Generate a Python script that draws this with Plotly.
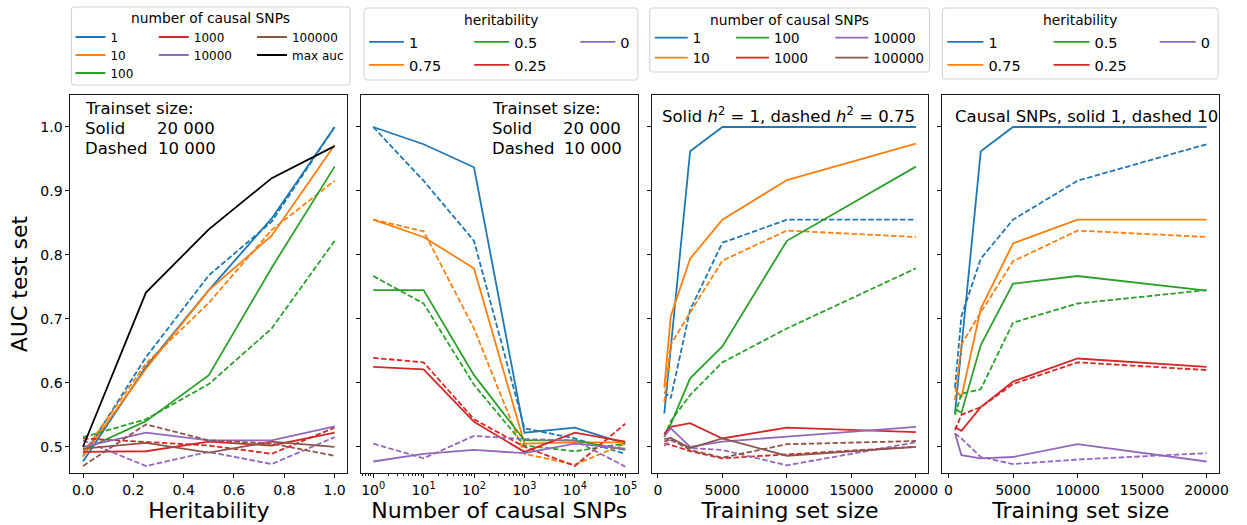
import plotly.graph_objects as go

W, H = 1247, 525

# ---------------- data ----------------
HERIT = [0.0, 0.25, 0.5, 0.75, 1.0]
NSNP = [1, 10, 100, 1000, 10000, 100000]
TRAIN = [500, 1000, 2500, 5000, 10000, 20000]

# Panel A: AUC vs heritability; lines = number of causal SNPs; solid trainset 20 000, dashed 10 000
A_SNP1_20K = [0.477, 0.625, 0.745, 0.857, 1.0]
A_SNP1_10K = [0.485, 0.640, 0.768, 0.852, 1.0]
A_SNP10_20K = [0.485, 0.622, 0.745, 0.830, 0.972]
A_SNP10_10K = [0.490, 0.630, 0.725, 0.839, 0.916]
A_SNP100_20K = [0.495, 0.540, 0.612, 0.780, 0.938]
A_SNP100_10K = [0.515, 0.543, 0.598, 0.685, 0.822]
A_SNP1000_20K = [0.492, 0.493, 0.508, 0.502, 0.522]
A_SNP1000_10K = [0.513, 0.507, 0.502, 0.489, 0.530]
A_SNP10000_20K = [0.500, 0.522, 0.510, 0.510, 0.532]
A_SNP10000_10K = [0.510, 0.470, 0.492, 0.473, 0.515]
A_SNP100000_20K = [0.497, 0.506, 0.491, 0.508, 0.500]
A_SNP100000_10K = [0.470, 0.535, 0.510, 0.505, 0.486]
A_MAX_AUC = [0.500, 0.741, 0.840, 0.920, 0.970]

# Panel B: AUC vs number of causal SNPs; lines = heritability; solid 20 000, dashed 10 000
B_H1_20K = [1.0, 0.973, 0.937, 0.522, 0.530, 0.505]
B_H1_10K = [1.0, 0.916, 0.822, 0.529, 0.513, 0.489]
B_H075_20K = [0.855, 0.828, 0.779, 0.505, 0.507, 0.507]
B_H075_10K = [0.855, 0.837, 0.685, 0.489, 0.472, 0.505]
B_H05_20K = [0.745, 0.745, 0.612, 0.510, 0.510, 0.495]
B_H05_10K = [0.767, 0.724, 0.597, 0.502, 0.493, 0.505]
B_H025_20K = [0.625, 0.621, 0.539, 0.492, 0.522, 0.508]
B_H025_10K = [0.639, 0.632, 0.543, 0.500, 0.470, 0.536]
B_H0_20K = [0.477, 0.489, 0.495, 0.490, 0.505, 0.497]
B_H0_10K = [0.505, 0.482, 0.517, 0.512, 0.510, 0.469]

# Panel C: AUC vs training set size; lines = number of causal SNPs; solid h2=1, dashed h2=0.75
C_SNP1_H1 = [0.552, 0.655, 0.962, 1.0, 1.0, 1.0]
C_SNP1_H075 = [0.586, 0.576, 0.714, 0.819, 0.855, 0.855]
C_SNP10_H1 = [0.592, 0.704, 0.794, 0.855, 0.917, 0.974]
C_SNP10_H075 = [0.570, 0.660, 0.710, 0.791, 0.838, 0.828]
C_SNP100_H1 = [0.520, 0.535, 0.607, 0.657, 0.822, 0.938]
C_SNP100_H075 = [0.515, 0.540, 0.581, 0.632, 0.685, 0.779]
C_SNP1000_H1 = [0.520, 0.531, 0.537, 0.513, 0.530, 0.523]
C_SNP1000_H075 = [0.505, 0.503, 0.493, 0.482, 0.488, 0.500]
C_SNP10000_H1 = [0.516, 0.529, 0.500, 0.508, 0.516, 0.531]
C_SNP10000_H075 = [0.501, 0.510, 0.498, 0.495, 0.471, 0.507]
C_SNP100000_H1 = [0.512, 0.514, 0.498, 0.513, 0.486, 0.500]
C_SNP100000_H075 = [0.508, 0.512, 0.495, 0.483, 0.504, 0.509]

# Panel D: AUC vs training set size; lines = heritability; solid 1 causal SNP, dashed 10
D_H1_SNP1 = [0.552, 0.655, 0.962, 1.0, 1.0, 1.0]
D_H1_SNP10 = [0.592, 0.704, 0.794, 0.855, 0.916, 0.973]
D_H075_SNP1 = [0.591, 0.577, 0.716, 0.818, 0.855, 0.855]
D_H075_SNP10 = [0.573, 0.660, 0.710, 0.790, 0.838, 0.828]
D_H05_SNP1 = [0.560, 0.553, 0.659, 0.755, 0.767, 0.744]
D_H05_SNP10 = [0.550, 0.583, 0.590, 0.694, 0.724, 0.745]
D_H025_SNP1 = [0.531, 0.525, 0.562, 0.602, 0.638, 0.625]
D_H025_SNP10 = [0.526, 0.550, 0.562, 0.598, 0.632, 0.620]
D_H0_SNP1 = [0.521, 0.487, 0.482, 0.484, 0.504, 0.477]
D_H0_SNP10 = [0.521, 0.513, 0.484, 0.473, 0.480, 0.490]

SNP_LABELS = ["1", "10", "100", "1000", "10000", "100000"]
HERIT_LABELS = ["1", "0.75", "0.5", "0.25", "0"]
LOG_TICKS = [1, 10, 100, 1000, 10000, 100000]
LOG_TICKTEXT = ["10<sup>0</sup>", "10<sup>1</sup>", "10<sup>2</sup>",
                "10<sup>3</sup>", "10<sup>4</sup>", "10<sup>5</sup>"]

# ---------------- style ----------------
BLUE, ORANGE, GREEN, RED, PURPLE, BROWN = (
    "#1f77b4", "#ff7f0e", "#2ca02c", "#d62728", "#9467bd", "#8c564b")
SNP_COLORS = [BLUE, ORANGE, GREEN, RED, PURPLE, BROWN]
HERIT_COLORS = [BLUE, ORANGE, GREEN, RED, PURPLE]
FONT = "DejaVu Sans"
LW = 1.8
DASH = "5.5px,2.4px"


def px_x(px):
    return px / W


def px_y(py):
    return 1 - py / H


# panel pixel boxes (left, right); common top/bottom
PANEL_X = [(71, 350), (363.5, 643), (657, 936), (950, 1229)]
TOP, BOTTOM = 95, 473

fig = go.Figure()

# legend entry placement: (line start x, row center y)
LEG_POS = {
    1: {"1": (76, 37), "10": (76, 55), "100": (76, 73), "1000": (160, 37),
        "10000": (160, 55), "100000": (259, 37), "max auc": (259, 55)},
    2: {"1": (372, 42), "0.75": (372, 65), "0.5": (478, 42), "0.25": (478, 65),
        "0": (585, 42)},
    3: {"1": (660, 38), "10": (660, 58), "100": (742, 38), "1000": (742, 58),
        "10000": (842, 38), "100000": (842, 58)},
    4: {"1": (955, 42), "0.75": (955, 65), "0.5": (1062, 42), "0.25": (1062, 65),
        "0": (1169, 42)},
}
LEG_FONT = {1: 12, 2: 14.5, 3: 13.3, 4: 14.5}
LEG_ITEMW = {1: 30, 2: 35, 3: 33, 4: 36}
legend_layouts = {}
leg_counter = [0]


def new_legend(panel, label):
    leg_counter[0] += 1
    n = leg_counter[0]
    name = "legend" if n == 1 else f"legend{n}"
    lx, ly = LEG_POS[panel][label]
    legend_layouts[name] = dict(
        x=px_x(lx - 5), y=px_y(ly), xanchor="left", yanchor="middle",
        bgcolor="rgba(0,0,0,0)", borderwidth=0, orientation="h",
        itemwidth=LEG_ITEMW[panel],
        font=dict(family=FONT, size=LEG_FONT[panel], color="#000"),
        itemclick=False, itemdoubleclick=False,
    )
    return name


def add_pair(panel, x, solid, dashed, color, label):
    xa = "x" if panel == 1 else f"x{panel}"
    ya = "y" if panel == 1 else f"y{panel}"
    leg = new_legend(panel, label)
    fig.add_trace(go.Scatter(x=x, y=solid, mode="lines", name=label,
                             line=dict(color=color, width=LW),
                             xaxis=xa, yaxis=ya, legend=leg, showlegend=True))
    if dashed is not None:
        fig.add_trace(go.Scatter(x=x, y=dashed, mode="lines", name=label,
                                 line=dict(color=color, width=LW, dash=DASH),
                                 xaxis=xa, yaxis=ya, showlegend=False))


# Panel 1
A_SOLID = [A_SNP1_20K, A_SNP10_20K, A_SNP100_20K, A_SNP1000_20K, A_SNP10000_20K, A_SNP100000_20K]
A_DASH = [A_SNP1_10K, A_SNP10_10K, A_SNP100_10K, A_SNP1000_10K, A_SNP10000_10K, A_SNP100000_10K]
for lab, col, s, d in zip(SNP_LABELS, SNP_COLORS, A_SOLID, A_DASH):
    add_pair(1, HERIT, s, d, col, lab)
add_pair(1, HERIT, A_MAX_AUC, None, "#000000", "max auc")

# Panel 2
B_SOLID = [B_H1_20K, B_H075_20K, B_H05_20K, B_H025_20K, B_H0_20K]
B_DASH = [B_H1_10K, B_H075_10K, B_H05_10K, B_H025_10K, B_H0_10K]
for lab, col, s, d in zip(HERIT_LABELS, HERIT_COLORS, B_SOLID, B_DASH):
    add_pair(2, NSNP, s, d, col, lab)

# Panel 3
C_SOLID = [C_SNP1_H1, C_SNP10_H1, C_SNP100_H1, C_SNP1000_H1, C_SNP10000_H1, C_SNP100000_H1]
C_DASH = [C_SNP1_H075, C_SNP10_H075, C_SNP100_H075, C_SNP1000_H075, C_SNP10000_H075, C_SNP100000_H075]
for lab, col, s, d in zip(SNP_LABELS, SNP_COLORS, C_SOLID, C_DASH):
    add_pair(3, TRAIN, s, d, col, lab)

# Panel 4
D_SOLID = [D_H1_SNP1, D_H075_SNP1, D_H05_SNP1, D_H025_SNP1, D_H0_SNP1]
D_DASH = [D_H1_SNP10, D_H075_SNP10, D_H05_SNP10, D_H025_SNP10, D_H0_SNP10]
for lab, col, s, d in zip(HERIT_LABELS, HERIT_COLORS, D_SOLID, D_DASH):
    add_pair(4, TRAIN, s, d, col, lab)

# ---------------- axes ----------------
axis_common = dict(
    showline=True, mirror=True, linecolor="#1a1a1a", linewidth=1,
    ticks="outside", ticklen=4, tickwidth=1, tickcolor="#1a1a1a",
    showgrid=False, zeroline=False,
    tickfont=dict(family=FONT, size=14, color="#000"),
)
Y_RANGE = [0.459, 1.05]
X_TITLES = ["Heritability", "Number of causal SNPs", "Training set size", "Training set size"]

layout_axes = {}
for i, (l, r) in enumerate(PANEL_X, start=1):
    xn = "xaxis" if i == 1 else f"xaxis{i}"
    yn = "yaxis" if i == 1 else f"yaxis{i}"
    xa = dict(axis_common, domain=[px_x(l), px_x(r)], anchor="y" if i == 1 else f"y{i}",
              title=dict(text=X_TITLES[i - 1], font=dict(family=FONT, size=22, color="#000"),
                         standoff=5))
    if i == 1:
        xa.update(range=[-0.05, 1.05], tickvals=[0, 0.2, 0.4, 0.6, 0.8, 1.0], tickformat=".1f")
    elif i == 2:
        minor_vals = [k * 10 ** e for e in range(-1, 5) for k in range(2, 10)
                      if 10 ** -0.25 <= k * 10 ** e <= 10 ** 5.25]
        xa.update(type="log", range=[-0.25, 5.25], tickvals=LOG_TICKS, ticktext=LOG_TICKTEXT,
                  minor=dict(tickvals=minor_vals, ticks="outside", ticklen=2,
                             tickcolor="#1a1a1a", tickwidth=0.8))
    else:
        xa.update(range=[-475, 20975], tickvals=[0, 5000, 10000, 15000, 20000], tickformat="d")
    ya = dict(axis_common, domain=[px_y(BOTTOM), px_y(TOP)], range=Y_RANGE,
              anchor="x" if i == 1 else f"x{i}",
              tickvals=[0.5, 0.6, 0.7, 0.8, 0.9, 1.0], tickformat=".1f")
    if i == 1:
        ya["title"] = dict(text="AUC test set", font=dict(family=FONT, size=22, color="#000"),
                           standoff=6)
    else:
        ya["showticklabels"] = False
    layout_axes[xn] = xa
    layout_axes[yn] = ya

# ---------------- annotations ----------------
annotations = []


def add_text(text, x, y, size, xanchor="left"):
    annotations.append(dict(text=text, x=px_x(x), y=px_y(y), xref="paper", yref="paper",
                            xanchor=xanchor, yanchor="middle", showarrow=False,
                            font=dict(family=FONT, size=size, color="#000")))


for (x0, x1) in [(84, 156), (494, 566)]:
    add_text("Trainset size:", x0, 109, 16.5)
    add_text("Solid", x0, 128.5, 16.5)
    add_text("Dashed", x0, 148, 16.5)
    add_text("20 000", x1, 128.5, 16.5)
    add_text("10 000", x1 + 1, 148, 16.5)

add_text("Solid <i>h</i><sup>2</sup> = 1, dashed <i>h</i><sup>2</sup> = 0.75", 665, 115, 16.5)
add_text("Causal SNPs, solid 1, dashed 10", 961, 116, 16.5)

# legend titles
add_text("number of causal SNPs", 212, 18, 13.8, "center")
add_text("heritability", 505, 20, 13.8, "center")
add_text("number of causal SNPs", 796, 20, 13.8, "center")
add_text("heritability", 1089, 20, 13.8, "center")


# legend frames
def rounded_rect(x0, y0, x1, y1, r=3):
    X0, X1 = px_x(x0), px_x(x1)
    Y0, Y1 = px_y(y0), px_y(y1)
    rx, ry = r / W, r / H
    return (f"M{X0 + rx},{Y0} L{X1 - rx},{Y0} Q{X1},{Y0} {X1},{Y0 - ry} "
            f"L{X1},{Y1 + ry} Q{X1},{Y1} {X1 - rx},{Y1} L{X0 + rx},{Y1} "
            f"Q{X0},{Y1} {X0},{Y1 + ry} L{X0},{Y0 - ry} Q{X0},{Y0} {X0 + rx},{Y0} Z")


shapes = []
for (x0, y0, x1, y1) in [(72, 7, 353, 85), (367, 8, 643, 80), (655, 8, 937, 72), (950, 8, 1228, 79)]:
    shapes.append(dict(type="path", path=rounded_rect(x0, y0, x1, y1), xref="paper", yref="paper",
                       line=dict(color="#d0d0d0", width=1), fillcolor="rgba(255,255,255,0.8)",
                       layer="below"))

fig.update_layout(
    width=W, height=H,
    margin=dict(l=0, r=0, t=0, b=0),
    paper_bgcolor="white", plot_bgcolor="white",
    font=dict(family=FONT, color="#000"),
    annotations=annotations, shapes=shapes,
    hovermode=False,
    **layout_axes,
    **legend_layouts,
)

fig.write_html("out.html", config={"displayModeBar": False},
               post_script="document.body.style.margin='0';")
